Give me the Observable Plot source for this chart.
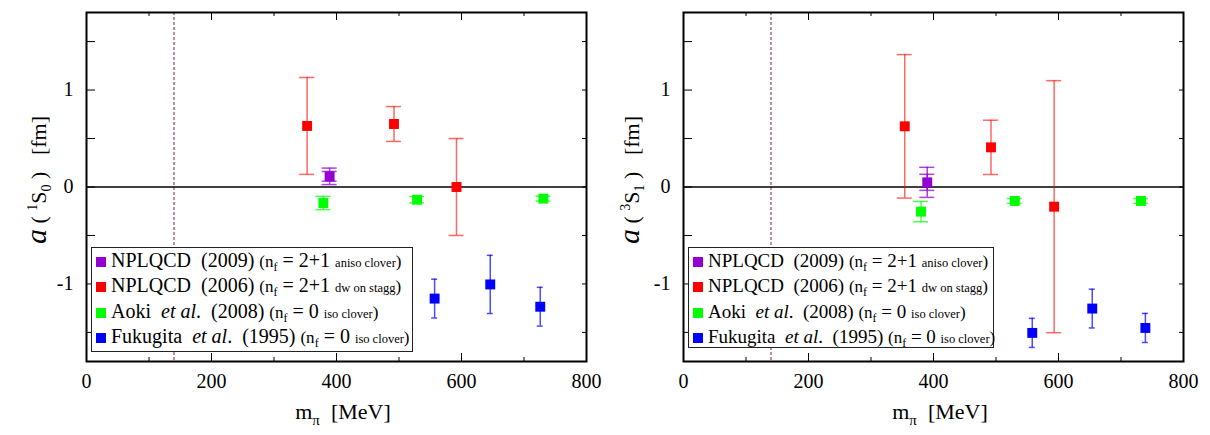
<!DOCTYPE html>
<html><head><meta charset="utf-8">
<script src="https://cdn.jsdelivr.net/npm/d3@7"></script>
<script src="https://cdn.jsdelivr.net/npm/@observablehq/plot@0.6"></script>
<style>
html,body{margin:0;padding:0;background:#fff;}
#root{position:relative;width:1210px;height:435px;overflow:hidden;font-family:"Liberation Serif","Tinos","Nimbus Roman","Nimbus Roman No9 L","FreeSerif","DejaVu Serif",serif;color:#000;}
.panel{position:absolute;top:0;}
.legend{position:absolute;background:#fff;border:1.5px solid #222;box-sizing:border-box;white-space:pre;font-size:20px;line-height:25.3px;}
.row{height:25.3px;}
.sw{display:inline-block;width:10px;height:10px;margin:0 5px 0 4px;}
.sm{font-size:12.5px;}
.pn{font-size:17px;}
.legend sub{font-size:12px;vertical-align:-4px;line-height:0;}
.ylab{position:absolute;white-space:pre;font-size:22px;line-height:26px;transform:translate(-50%,-50%) rotate(-90deg);}
.ylab sup{font-size:14px;vertical-align:9px;line-height:0;}
.ylab sub{font-size:14px;vertical-align:-5px;line-height:0;}
.xlab{position:absolute;white-space:pre;font-size:22px;line-height:24px;transform:translateX(-50%);}
.xlab sub{font-size:15px;vertical-align:-6px;line-height:0;}
</style></head><body><div id="root"></div>
<script>
// ---- axes ----
const xTicksMajor = [0, 200, 400, 600, 800];
const xTicksMinor = [100, 300, 500, 700];
const yTickLabels = [-1, 0, 1];
const yTickMarks = [-1.5, -1, -0.5, 0, 0.5, 1, 1.5];
const physicalPionMass = 140;

// ---- series ----
const seriesNames = ["NPLQCD (2009)", "NPLQCD (2006)", "Aoki et al. (2008)", "Fukugita et al. (1995)"];
const seriesColors = ["#9400d3", "#ff0000", "#00ff00", "#0000ff"];

// legend texts
const legendMain = ["NPLQCD", "NPLQCD", "Aoki", "Fukugita"];
const legendEtAl = [false, false, true, true];
const legendYear = ["(2009)", "(2006)", "(2008)", "(1995)"];
const legendNf = ["2+1", "2+1", "0", "0"];
const legendAction = ["aniso clover", "dw on stagg", "iso clover", "iso clover"];

// ---- 1S0 panel: a(1S0) [fm] vs m_pi [MeV] ----
const s0_npl09_mpi = [389];
const s0_npl09_a = [0.11];
const s0_npl09_errStat = [0.05];
const s0_npl09_errTot = [0.085];
const s0_npl06_mpi = [353, 492, 592];
const s0_npl06_a = [0.63, 0.65, 0.0];
const s0_npl06_err = [0.5, 0.18, 0.5];
const s0_aoki_mpi = [379, 529, 731];
const s0_aoki_a = [-0.165, -0.131, -0.12];
const s0_aoki_err = [0.068, 0.032, 0.025];
const s0_fuku_mpi = [557, 646, 726];
const s0_fuku_a = [-1.151, -1.005, -1.235];
const s0_fuku_err = [0.2, 0.3, 0.2];

// ---- 3S1 panel: a(3S1) [fm] vs m_pi [MeV] ----
const s1_npl09_mpi = [390];
const s1_npl09_a = [0.048];
const s1_npl09_errStat = [0.083];
const s1_npl09_errTot = [0.155];
const s1_npl06_mpi = [354, 492, 593];
const s1_npl06_a = [0.626, 0.409, -0.203];
const s1_npl06_err = [0.74, 0.28, 1.3];
const s1_aoki_mpi = [380, 530, 732];
const s1_aoki_a = [-0.254, -0.144, -0.144];
const s1_aoki_err = [0.105, 0.025, 0.025];
const s1_fuku_mpi = [558, 654, 739];
const s1_fuku_a = [-1.505, -1.254, -1.454];
const s1_fuku_err = [0.15, 0.2, 0.15];

function rows(mpi, a, err) { return mpi.map((m, i) => ({m, a: a[i], e: err[i]})); }

const barStyle = [
  {op: 0.75, cap: 7.5},  // purple
  {op: 0.6, cap: 7.5},   // red
  {op: 0.7, cap: 7.5},   // green
  {op: 0.7, cap: 3}      // blue
];

function errMarks(data, k) {
  const c = seriesColors[k], st = barStyle[k];
  return [
    Plot.ruleX(data, {x: "m", y1: d => d.a - d.e, y2: d => d.a + d.e, stroke: c, strokeWidth: 1.5, strokeOpacity: st.op}),
    Plot.ruleY(data, {x1: "m", x2: "m", y: d => d.a + d.e, stroke: c, strokeWidth: 1.5, strokeOpacity: st.op, insetLeft: -st.cap, insetRight: -st.cap}),
    Plot.ruleY(data, {x1: "m", x2: "m", y: d => d.a - d.e, stroke: c, strokeWidth: 1.5, strokeOpacity: st.op, insetLeft: -st.cap, insetRight: -st.cap})
  ];
}

const FONT = "'Liberation Serif', Tinos, 'Nimbus Roman', 'Nimbus Roman No9 L', FreeSerif, 'DejaVu Serif', serif";

function makePanel(S, mL, mR) {
  const marks = [
    Plot.ruleX([physicalPionMass], {stroke: "#7a1f55", strokeDasharray: "3,2", strokeWidth: 1}),
    Plot.ruleY([0], {stroke: "#000", strokeWidth: 1.5}),
    ...errMarks(S.purpleTot, 0),
    ...errMarks(S.purpleStat, 0),
    ...errMarks(S.red, 1),
    ...errMarks(S.green, 2),
    ...errMarks(S.blue, 3),
    Plot.dot(S.purpleStat, {x: "m", y: "a", symbol: "square", r: 5.6, fill: seriesColors[0]}),
    Plot.dot(S.red, {x: "m", y: "a", symbol: "square", r: 5.6, fill: seriesColors[1]}),
    Plot.dot(S.green, {x: "m", y: "a", symbol: "square", r: 5.6, fill: seriesColors[2]}),
    Plot.dot(S.blue, {x: "m", y: "a", symbol: "square", r: 5.6, fill: seriesColors[3]}),
    Plot.axisX({ticks: xTicksMajor, anchor: "bottom", tickSize: 0, tickPadding: 12, tickFormat: d => String(d), label: null}),
    Plot.axisX({ticks: xTicksMajor, anchor: "bottom", tickSize: -8, tickFormat: () => "", label: null}),
    Plot.axisX({ticks: xTicksMinor, anchor: "bottom", tickSize: -4, tickFormat: () => "", label: null}),
    Plot.axisX({ticks: xTicksMajor, anchor: "top", tickSize: -7, tickFormat: () => "", label: null}),
    Plot.axisX({ticks: xTicksMinor, anchor: "top", tickSize: -3, tickFormat: () => "", label: null}),
    Plot.axisY({ticks: yTickLabels, anchor: "left", tickSize: 0, tickPadding: 13, tickFormat: d => String(d), label: null}),
    Plot.axisY({ticks: yTickMarks, anchor: "left", tickSize: -9, tickFormat: () => "", label: null}),
    Plot.axisY({ticks: yTickMarks, anchor: "right", tickSize: -5, tickFormat: () => "", label: null}),
    Plot.frame({stroke: "#000", strokeWidth: 2})
  ];
  return Plot.plot({
    width: 605, height: 435,
    marginLeft: mL, marginRight: mR, marginTop: 12, marginBottom: 74,
    x: {domain: [0, 800]},
    y: {domain: [-1.8, 1.8]},
    style: {fontFamily: FONT, fontSize: "20px", background: "white", color: "#000"},
    marks
  });
}

const P0 = {
  purpleStat: rows(s0_npl09_mpi, s0_npl09_a, s0_npl09_errStat),
  purpleTot: rows(s0_npl09_mpi, s0_npl09_a, s0_npl09_errTot),
  red: rows(s0_npl06_mpi, s0_npl06_a, s0_npl06_err),
  green: rows(s0_aoki_mpi, s0_aoki_a, s0_aoki_err),
  blue: rows(s0_fuku_mpi, s0_fuku_a, s0_fuku_err)
};
const P1 = {
  purpleStat: rows(s1_npl09_mpi, s1_npl09_a, s1_npl09_errStat),
  purpleTot: rows(s1_npl09_mpi, s1_npl09_a, s1_npl09_errTot),
  red: rows(s1_npl06_mpi, s1_npl06_a, s1_npl06_err),
  green: rows(s1_aoki_mpi, s1_aoki_a, s1_aoki_err),
  blue: rows(s1_fuku_mpi, s1_fuku_a, s1_fuku_err)
};

const root = document.getElementById("root");
function addDiv(cls, css, html) {
  const d = document.createElement("div");
  d.className = cls; d.style.cssText = css; if (html != null) d.innerHTML = html;
  root.appendChild(d); return d;
}
const left = addDiv("panel", "left:0px;");
left.appendChild(makePanel(P0, 86, 19));
const right = addDiv("panel", "left:605px;");
right.appendChild(makePanel(P1, 78, 27));

function legendHTML() {
  return seriesNames.map((n, k) =>
    `<div class="row"><span class="sw" style="background:${seriesColors[k]}"></span>${legendMain[k]}${legendEtAl[k] ? "  <i>et al</i>." : ""}  ${legendYear[k]} <span class="pn">(n<sub>f</sub></span> = ${legendNf[k]} <span class="sm">${legendAction[k]}</span><span class="pn">)</span></div>`
  ).join("");
}
addDiv("legend", "left:91px;top:247px;width:322px;height:105px;", legendHTML());
addDiv("legend", "left:688px;top:247px;width:306px;height:101px;font-size:19px;", legendHTML());

addDiv("xlab", "left:343px;top:400px;", "m<sub>π</sub>  [MeV]");
addDiv("xlab", "left:940px;top:400px;", "m<sub>π</sub>  [MeV]");
addDiv("ylab", "left:37px;top:180px;", "<i style=\"font-size:30px\">a</i> ( <sup>1</sup>S<sub>0</sub> )   [fm]");
addDiv("ylab", "left:630px;top:180px;", "<i style=\"font-size:30px\">a</i> ( <sup>3</sup>S<sub>1</sub> )   [fm]");
</script></body></html>
